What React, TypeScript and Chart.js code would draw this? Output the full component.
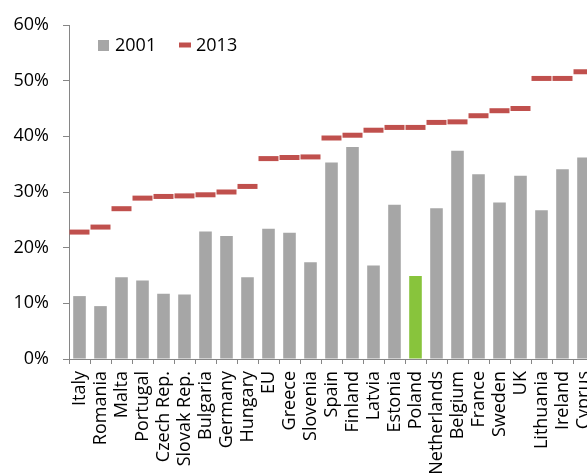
import React, { useEffect, useRef } from "react";
import { Chart, registerables } from "chart.js";

Chart.register(...registerables);

const countries = [
  "Italy", "Romania", "Malta", "Portugal", "Czech Rep.", "Slovak Rep.", "Bulgaria",
  "Germany", "Hungary", "EU", "Greece", "Slovenia", "Spain", "Finland", "Latvia",
  "Estonia", "Poland", "Netherlands", "Belgium", "France", "Sweden", "UK",
  "Lithuania", "Ireland", "Cyprus",
];

const values2001 = [
  11.3, 9.5, 14.7, 14.1, 11.7, 11.6, 22.9, 22.1, 14.7, 23.4, 22.7, 17.4, 35.3,
  38.1, 16.8, 27.7, 14.9, 27.1, 37.4, 33.2, 28.1, 32.9, 26.7, 34.1, 36.2,
];

const values2013 = [
  22.8, 23.7, 27.0, 28.9, 29.2, 29.3, 29.5, 30.0, 31.0, 36.0, 36.2, 36.3, 39.7,
  40.2, 41.1, 41.6, 41.6, 42.5, 42.6, 43.7, 44.6, 45.0, 50.4, 50.4, 51.6,
];

const yTicks = [0, 10, 20, 30, 40, 50, 60];

const highlighted = "Poland";

const GREY = "#A6A6A6";
const GREEN = "#88C43C";
const RED = "#C0504D";
const AXIS = "#868686";
const FONT = "'Open Sans', sans-serif";

const CANVAS_W = 620;
const CANVAS_H = 500;

// Legend drawn inside the plot, just under the top of the value axis.
const insideLegend = {
  id: "insideLegend",
  afterDraw(chart: any) {
    const ctx = chart.ctx;
    const ds = chart.data.datasets;
    const y = 45;
    ctx.save();
    ctx.font = `18px ${FONT}`;
    ctx.textBaseline = "middle";
    ctx.fillStyle = "#000";
    // 2001: square swatch
    ctx.fillStyle = GREY;
    ctx.fillRect(98, y - 5, 11, 11);
    ctx.fillStyle = "#000";
    ctx.fillText(ds[0].label, 115, y + 1);
    // 2013: short dash
    ctx.strokeStyle = RED;
    ctx.lineWidth = 5;
    ctx.beginPath();
    ctx.moveTo(179, y);
    ctx.lineTo(191, y);
    ctx.stroke();
    ctx.fillText(ds[1].label, 196, y + 1);
    ctx.restore();
  },
};

export default function App() {
  const ref = useRef<HTMLCanvasElement | null>(null);

  useEffect(() => {
    if (!ref.current) return;
    const chart = new Chart(ref.current, {
      type: "bar",
      data: {
        labels: countries,
        datasets: [
          {
            type: "bar",
            label: "2001",
            data: values2001,
            backgroundColor: countries.map((c) => (c === highlighted ? GREEN : GREY)),
            borderWidth: 0,
            barPercentage: 0.6,
            categoryPercentage: 1,
            order: 2,
          },
          {
            type: "line",
            label: "2013",
            data: values2013,
            showLine: false,
            pointStyle: "line",
            pointRadius: 10,
            pointHoverRadius: 10,
            pointBorderWidth: 5,
            pointHoverBorderWidth: 5,
            pointBorderColor: RED,
            pointBackgroundColor: RED,
            borderColor: RED,
            order: 1,
          } as any,
        ],
      },
      options: {
        responsive: false,
        animation: false,
        events: [],
        layout: { padding: { left: 0, top: 25, right: 26, bottom: 0 } },
        plugins: {
          legend: { display: false },
          tooltip: { enabled: false },
        },
        scales: {
          x: {
            offset: true,
            grid: {
              offset: true,
              drawOnChartArea: false,
              tickLength: 5,
              color: AXIS,
            },
            border: { display: true, color: AXIS, width: 1 },
            ticks: {
              autoSkip: false,
              maxRotation: 90,
              minRotation: 90,
              padding: 7,
              color: "#000",
              font: { family: FONT, size: 18 },
            },
            afterFit(scale: any) {
              scale.height = CANVAS_H - 359;
            },
          },
          y: {
            min: yTicks[0],
            max: yTicks[yTicks.length - 1],
            afterBuildTicks(scale: any) {
              scale.ticks = yTicks.map((v) => ({ value: v }));
            },
            grid: {
              drawOnChartArea: false,
              tickLength: 6,
              color: AXIS,
            },
            border: { display: true, color: AXIS, width: 1 },
            ticks: {
              padding: 14,
              color: "#000",
              font: { family: FONT, size: 18 },
              callback: (v: any) => `${v}%`,
            },
            afterFit(scale: any) {
              scale.width = 69;
            },
          },
        },
      },
      plugins: [insideLegend],
    });
    return () => chart.destroy();
  }, []);

  return (
    <div
      style={{
        position: "absolute",
        left: 0,
        top: 0,
        width: 587,
        height: 473,
        overflow: "hidden",
        background: "#fff",
      }}
    >
      <canvas
        ref={ref}
        width={CANVAS_W}
        height={CANVAS_H}
        style={{ display: "block", width: CANVAS_W, height: CANVAS_H }}
      />
    </div>
  );
}
